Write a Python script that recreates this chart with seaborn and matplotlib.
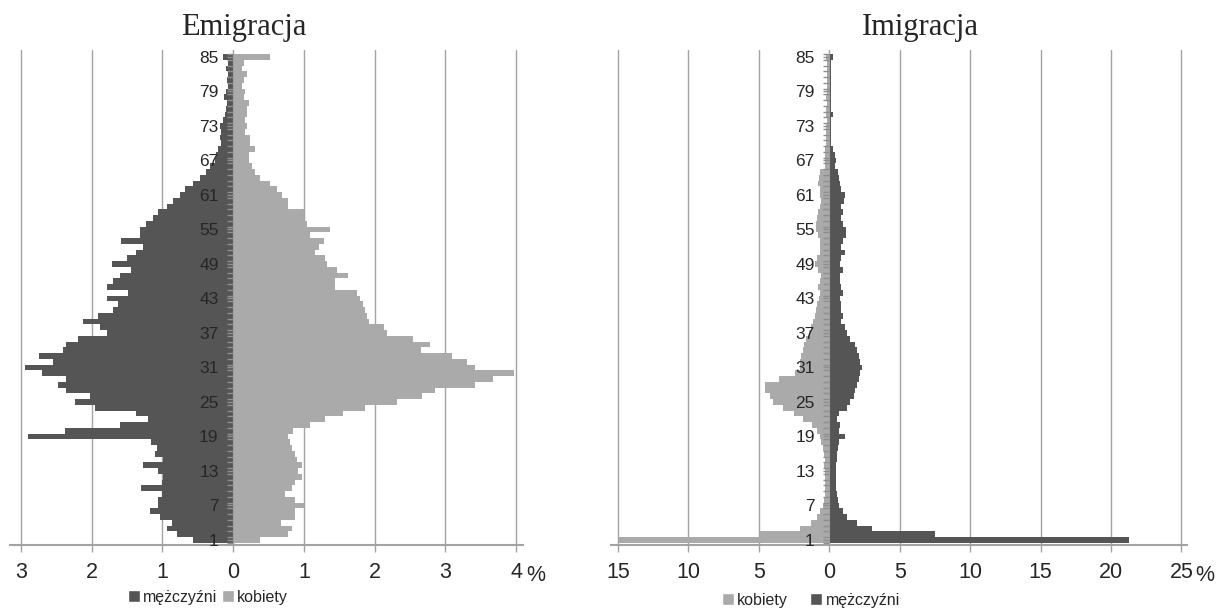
import numpy as np
import pandas as pd
import seaborn as sns
import matplotlib.pyplot as plt
from matplotlib.patches import Patch
from matplotlib.ticker import FuncFormatter

ages = list(range(1, 86))

# Emigracja - share of emigrants by age (%), age 1 .. 85
emi_men = [0.57, 0.80, 0.94, 0.87, 1.04, 1.18, 1.06, 1.06, 1.01, 1.30,
           1.01, 0.99, 1.06, 1.27, 0.99, 1.11, 1.08, 1.16, 2.90, 2.38,
           1.60, 1.20, 1.37, 1.96, 2.24, 2.03, 2.36, 2.48, 2.36, 2.71,
           2.95, 2.55, 2.74, 2.41, 2.36, 2.19, 1.79, 1.89, 2.12, 1.91,
           1.70, 1.63, 1.79, 1.49, 1.79, 1.70, 1.60, 1.44, 1.72, 1.50,
           1.37, 1.27, 1.58, 1.32, 1.32, 1.23, 1.13, 1.06, 0.94, 0.85,
           0.75, 0.68, 0.57, 0.47, 0.38, 0.33, 0.26, 0.24, 0.21, 0.17,
           0.19, 0.17, 0.19, 0.15, 0.12, 0.10, 0.09, 0.13, 0.10, 0.08,
           0.09, 0.07, 0.10, 0.07, 0.15]
emi_women = [0.38, 0.78, 0.83, 0.67, 0.88, 0.88, 1.00, 0.88, 0.74, 0.83,
             0.88, 0.97, 0.92, 0.97, 0.90, 0.88, 0.83, 0.81, 0.78, 0.85,
             1.09, 1.30, 1.56, 1.87, 2.32, 2.67, 2.86, 3.42, 3.68, 3.97,
             3.42, 3.31, 3.09, 2.65, 2.79, 2.55, 2.17, 2.13, 1.92, 1.89,
             1.87, 1.84, 1.80, 1.75, 1.44, 1.44, 1.63, 1.47, 1.33, 1.30,
             1.16, 1.21, 1.28, 1.09, 1.37, 1.04, 1.00, 1.00, 0.78, 0.78,
             0.69, 0.62, 0.52, 0.38, 0.31, 0.26, 0.22, 0.22, 0.31, 0.24,
             0.24, 0.17, 0.19, 0.17, 0.19, 0.19, 0.22, 0.15, 0.17, 0.12,
             0.15, 0.19, 0.12, 0.15, 0.52]

# Imigracja - share of immigrants by age (%), age 1 .. 85
imi_women = [14.9, 4.90, 2.10, 1.27, 0.89, 0.63, 0.45, 0.35, 0.33, 0.30,
             0.33, 0.30, 0.33, 0.35, 0.33, 0.41, 0.45, 0.57, 0.69, 0.90,
             1.20, 1.90, 2.50, 3.30, 4.00, 4.20, 4.55, 4.55, 3.60, 2.40,
             2.10, 2.10, 2.00, 1.90, 1.80, 1.65, 1.41, 1.29, 1.17, 1.05,
             0.93, 0.88, 0.74, 0.69, 0.81, 0.69, 0.57, 0.81, 0.98, 0.88,
             0.65, 0.69, 0.69, 0.81, 0.93, 0.93, 0.88, 0.81, 0.69, 0.57,
             0.69, 0.69, 0.81, 0.74, 0.69, 0.33, 0.33, 0.30, 0.30, 0.20,
             0.20, 0.22, 0.20, 0.18, 0.20, 0.20, 0.18, 0.20, 0.18, 0.15,
             0.18, 0.15, 0.18, 0.15, 0.20]
imi_men = [21.3, 7.50, 3.05, 1.98, 1.27, 0.96, 0.71, 0.60, 0.55, 0.50,
           0.45, 0.45, 0.45, 0.50, 0.55, 0.55, 0.60, 0.66, 1.14, 0.66,
           0.78, 0.55, 0.66, 1.26, 1.50, 1.73, 1.85, 1.97, 2.08, 2.20,
           2.32, 2.20, 2.08, 1.97, 1.85, 1.50, 1.26, 1.10, 0.86, 0.98,
           0.86, 0.86, 0.74, 0.98, 0.86, 0.74, 0.74, 0.98, 0.74, 0.86,
           1.10, 0.86, 0.98, 1.17, 1.22, 0.98, 0.86, 0.98, 0.86, 1.03,
           1.10, 0.86, 0.74, 0.69, 0.62, 0.38, 0.45, 0.38, 0.26, 0.14,
           0.14, 0.14, 0.14, 0.10, 0.26, 0.10, 0.10, 0.10, 0.10, 0.14,
           0.14, 0.14, 0.14, 0.14, 0.26]

age_labels = list(range(1, 86, 6))
emi_ticks = [-3, -2, -1, 0, 1, 2, 3, 4]
imi_ticks = [-15, -10, -5, 0, 5, 10, 15, 20, 25]

dark = "#555555"
light = "#aaaaaa"
line_col = "#a3a3a3"

sns.set_style("white")
plt.rcParams["font.family"] = ["Liberation Sans", "DejaVu Sans"]

fig = plt.figure(figsize=(12.29, 6.10), dpi=100)
ax_e = fig.add_axes([10.4 / 1229, 65 / 610, 512.7 / 1229, 495 / 610])
ax_i = fig.add_axes([611 / 1229, 65 / 610, 576 / 1229, 495 / 610])


def pyramid(ax, left_vals, right_vals, left_color, right_color, xlim, xticks):
    df = pd.DataFrame({"age": ages,
                       "left": -np.array(left_vals),
                       "right": np.array(right_vals)})
    for col, c in [("left", left_color), ("right", right_color)]:
        sns.barplot(data=df, x=col, y="age", orient="y", native_scale=True,
                    color=c, saturation=1, width=1, linewidth=0,
                    errorbar=None, ax=ax)

    ax.set_xlim(*xlim)
    ax.set_ylim(0.13, 86.2)
    ax.set_xlabel("")
    ax.set_ylabel("")
    ax.set_axisbelow(False)
    ax.grid(False)

    # vertical gridlines behind the bars
    for t in xticks:
        ax.axvline(t, color=line_col, lw=1, zorder=0)

    ax.set_xticks(xticks)
    ax.xaxis.set_major_formatter(FuncFormatter(lambda v, p: f"{abs(v):g}"))
    ax.tick_params(axis="x", length=5, width=1, color=line_col, pad=7,
                   labelsize=15.5, bottom=True)

    ax.set_yticks(age_labels)
    ax.set_yticks(np.arange(0.5, 86, 1), minor=True)
    ax.tick_params(axis="y", which="both", direction="out", length=4.5,
                   width=1, color="#8f8f8f", left=True, pad=6,
                   labelsize=12.5)

    for s in ["top", "right"]:
        ax.spines[s].set_visible(False)
    ax.spines["left"].set_position(("data", 0))
    ax.spines["left"].set_color(line_col)
    ax.spines["bottom"].set_color(line_col)
    ax.spines["bottom"].set_linewidth(1.5)


pyramid(ax_e, emi_men, emi_women, dark, light, (-3.15, 4.1), emi_ticks)
pyramid(ax_i, imi_women, imi_men, light, dark, (-15.5, 25.4), imi_ticks)

serif = ["Liberation Serif", "DejaVu Serif"]
fig.text(244 / 1229, 1 - 35 / 610, "Emigracja", ha="center", va="baseline",
         fontsize=22, family=serif)
fig.text(920 / 1229, 1 - 35 / 610, "Imigracja", ha="center", va="baseline",
         fontsize=22, family=serif)

# the "%" unit after the last tick label, on the tick-label baseline
fig.text(526 / 1229, 1 - 581 / 610, "%", ha="left", va="baseline", fontsize=15.5)
fig.text(1195 / 1229, 1 - 581 / 610, "%", ha="left", va="baseline", fontsize=15.5)

h_dark = Patch(facecolor=dark, label="mężczyźni")
h_light = Patch(facecolor=light, label="kobiety")
leg_kw = dict(loc="center", ncol=2, frameon=False, fontsize=11.5,
              handlelength=0.75, handleheight=0.75, handletextpad=0.2,
              borderaxespad=0)
fig.legend(handles=[h_dark, h_light], bbox_to_anchor=(208 / 1229, 0.021),
           columnspacing=0.3, **leg_kw)
fig.legend(handles=[h_light, h_dark], bbox_to_anchor=(811 / 1229, 0.016),
           columnspacing=1.4, **leg_kw)

fig.savefig("out.png", dpi=100)
